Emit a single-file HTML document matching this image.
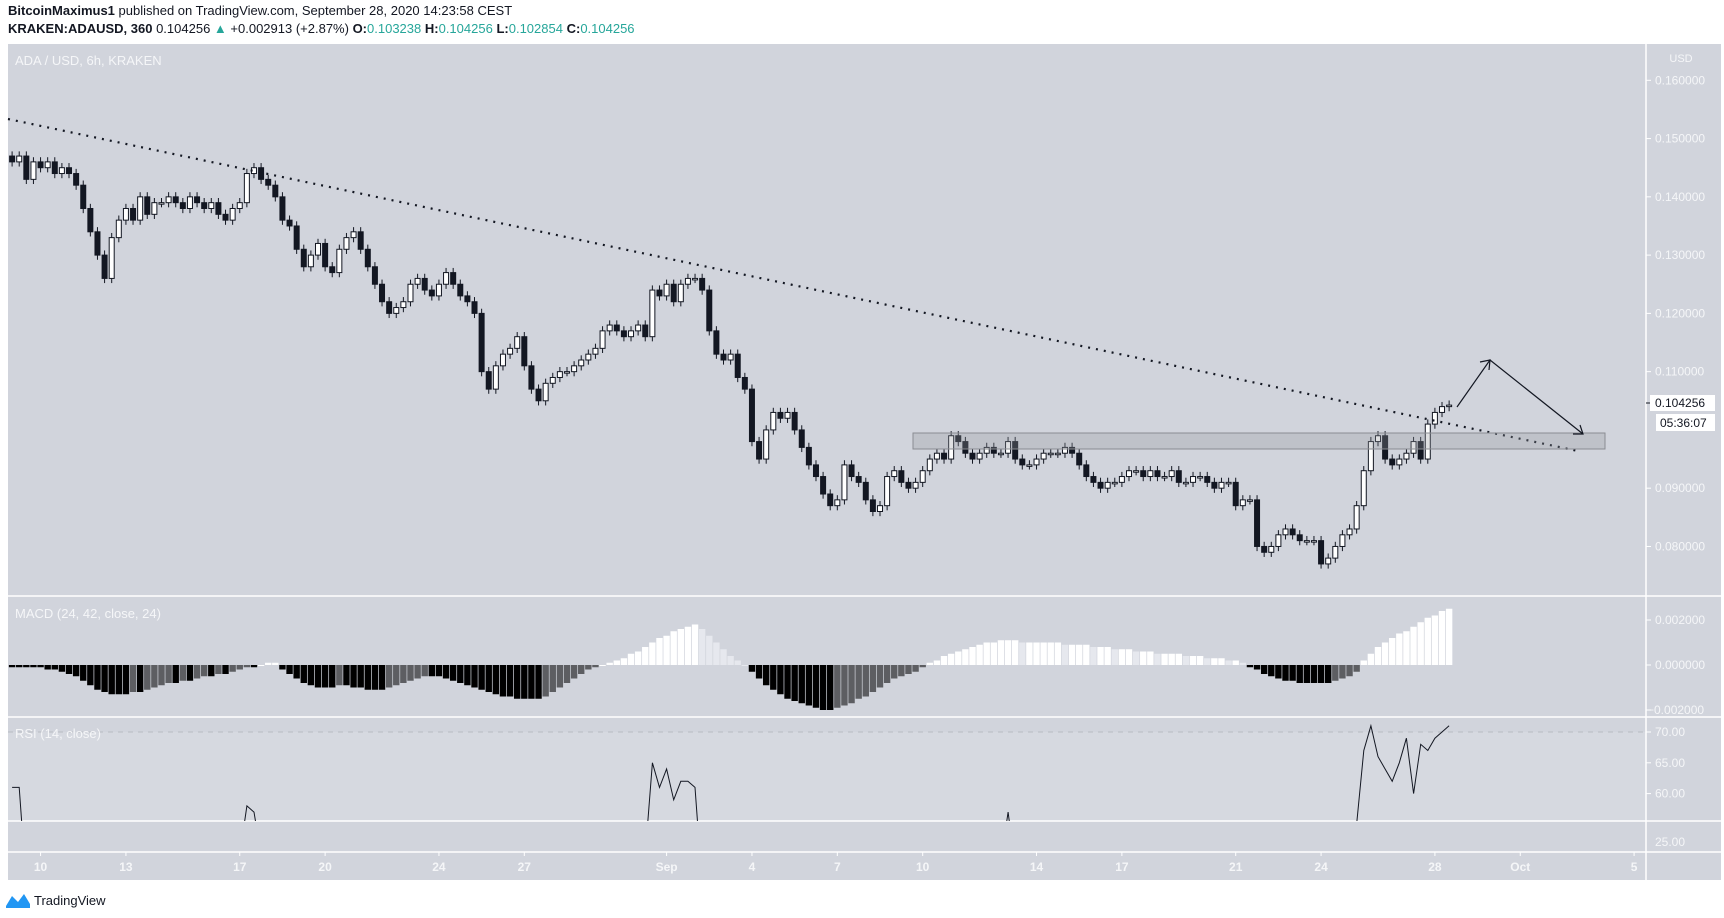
<!DOCTYPE html>
<html style="width:1724px;height:918px;overflow:hidden;margin:0"><head><meta charset="utf-8">
<style>
body{margin:0;width:1724px;height:918px;background:#fff;overflow:hidden;font-family:"Liberation Sans",sans-serif;position:relative;}
#hdr1{position:absolute;left:8px;top:3px;font-size:13px;color:#131722;white-space:nowrap;}
#hdr2{position:absolute;left:8px;top:21px;font-size:13px;color:#131722;white-space:nowrap;}
.g{color:#26a69a}
svg{position:absolute;left:0;top:0;display:block}
</style></head><body>
<div id="hdr1"><b>BitcoinMaximus1</b> published on TradingView.com, September 28, 2020 14:23:58 CEST</div>
<div id="hdr2"><b>KRAKEN:ADAUSD, 360</b> 0.104256 <span class="g">▲</span> +0.002913 (+2.87%) <b>O:</b><span class="g">0.103238</span> <b>H:</b><span class="g">0.104256</span> <b>L:</b><span class="g">0.102854</span> <b>C:</b><span class="g">0.104256</span></div>
<svg id="c" width="1724" height="918"></svg>
<script>
const closes=[.146,.147,.143,.146, .145,.146,.144,.145, .144,.142,.138,.134, .130,.126,.133,.136, .138,.136,.140,.137, .139,.139,.140,.139, .138,.140,.139,.138, .139,.137,.136,.138, .139,.144,.145,.143, .142,.140,.136,.135, .131,.128,.130,.132, .128,.127,.131,.133, .134,.131,.128,.125, .122,.120,.121,.122, .125,.126,.124,.123, .125,.127,.125,.123, .122,.120,.110,.107, .111,.113,.114,.116, .111,.107,.105,.108, .109,.110,.110,.111, .112,.113,.114,.117, .118,.117,.116,.117, .118,.116,.124,.123, .125,.122,.125,.126, .126,.124,.117,.113, .112,.113,.109,.107, .098,.095,.100,.103, .102,.103,.100,.097, .094,.092,.089,.087, .088,.094,.092,.091, .088,.086,.087,.092, .093,.091,.090,.091, .093,.095,.096,.095, .099,.098,.096,.095, .096,.097,.096,.096, .098,.095,.094,.094, .095,.096,.096,.096, .097,.096,.094,.092, .091,.090,.091,.091, .092,.093,.093,.092, .093,.092,.092,.093, .091,.091,.092,.092, .091,.090,.091,.091, .087,.088,.088,.080, .079,.080,.082,.083, .082,.081,.081,.081, .077,.078,.080,.082, .083,.087,.093,.098, .099,.095,.094,.095, .096,.098,.095,.101, .103,.104,.104256];
const macdHist=[-1,-1,-1,-1,-1,-2,-2,-3,-4,-5,-7,-9,-11,-12,-13,-13,-13,-12,-12,-11,-10,-9,-8,-8,-7,-7,-6,-5,-5,-4,-4,-3,-2,-1,-1,0,1,1,-2,-4,-6,-8,-9,-10,-10,-10,-9,-9,-10,-10,-11,-11,-11,-10,-9,-8,-7,-6,-5,-5,-5,-6,-7,-8,-9,-10,-11,-12,-13,-14,-14,-15,-15,-15,-15,-14,-12,-10,-8,-6,-4,-2,-1,0,1,2,3,5,6,8,10,12,13,15,16,17,18,16,13,10,7,4,2,0,-3,-6,-9,-11,-13,-15,-16,-17,-18,-19,-20,-20,-19,-18,-17,-15,-14,-12,-10,-8,-6,-5,-4,-3,-1,1,2,4,5,6,7,8,9,10,10,11,11,11,10,10,10,10,10,10,9,9,9,9,8,8,8,7,7,7,6,6,6,5,5,5,5,4,4,4,3,3,3,2,2,1,-1,-2,-4,-5,-6,-7,-7,-8,-8,-8,-8,-8,-7,-6,-5,-3,2,5,8,10,12,14,15,17,19,21,22,24,25];
const rsi=[61,61,45,48,47,46,44,43,40,38,35,33,30,32,40,44,47,45,49,46,48,48,50,48,47,50,48,47,48,45,44,48,50,58,57,50,47,44,40,38,35,33,38,41,36,35,42,45,46,41,37,34,31,30,32,34,40,42,39,38,42,45,42,39,37,35,28,26,33,37,39,42,36,31,30,35,37,39,39,41,43,45,47,51,52,50,48,50,52,50,65,61,64,59,62,62,61,45,35,32,30,25,26,22,20,24,30,34,33,35,32,28,26,25,22,21,24,33,31,30,26,25,28,38,40,38,37,39,43,46,48,46,52,51,48,47,49,50,49,49,57,48,46,45,47,49,49,49,50,48,45,42,41,40,42,42,44,46,46,44,46,47,46,46,47,42,42,43,43,42,42,41,40,42,41,40,31,30,31,35,37,36,35,35,27,29,34,38,46,55,67,71,66,64,62,65,69,60,68,67,69,70,71];
const priceTicks=[0.16,0.15,0.14,0.13,0.12,0.11,0.09,0.08];
const macdTicks=[0.002,0,-0.002];
const rsiTicks=[70,65,60];
const dateLabels=["10","13","17","20","24","27","Sep","4","7","10","14","17","21","24","28","Oct","5"];
const dateIdx=[4,16,32,44,60,72,92,104,116,128,144,156,172,184,200,212,228];

const NS="http://www.w3.org/2000/svg";
const svg=document.getElementById('c');
function mk(t,a,p){const e=document.createElementNS(NS,t);for(const k in a)e.setAttribute(k,a[k]);(p||svg).appendChild(e);return e;}
const X=i=>12.1+7.114*i;
const Y=p=>80.3+(0.16-p)*5827;
const MY=v=>665-v*22500;
const RY=v=>732-(v-70)*6.16;
const L=8,R=1646,AX=1721;
let e;
e=mk('rect',{x:L,y:44,width:AX-L,height:808,fill:'#d1d4dc'});

e=mk('rect',{x:L,y:732,width:R-L,height:89,fill:'#d6d9e0'});

e=mk('rect',{x:L,y:852,width:AX-L,height:28,fill:'#d1d4dc'});

[596,717,821,852].forEach(y=>{const s=mk('line',{x1:L,x2:AX,y1:y,y2:y,stroke:'#fff','stroke-width':1.5});

});
e=mk('line',{x1:R,x2:R,y1:44,y2:880,stroke:'#fff','stroke-width':1.5});

e=mk('line',{x1:L,x2:R,y1:732,y2:732,stroke:'#b8bbc2','stroke-dasharray':'5,5'});

function txt(x,y,s,o){const t=mk('text',Object.assign({x:x,y:y,fill:'#f5f6f8','font-size':12,'font-family':'Liberation Sans, sans-serif'},o||{}));t.textContent=s;return t;}
e=txt(15,65,'ADA / USD, 6h, KRAKEN',{'font-size':13});

e=txt(15,618,'MACD (24, 42, close, 24)',{'font-size':13});

e=txt(15,738,'RSI (14, close)',{'font-size':13});

e=txt(1681,62,'USD',{'text-anchor':'middle','font-size':11});

priceTicks.forEach(p=>{const t=txt(1655,Y(p)+4,p.toFixed(6),{'font-size':12});


mk('line',{x1:R,x2:R+5,y1:Y(p),y2:Y(p),stroke:'#fff'});});
macdTicks.forEach(v=>{const t=txt(v<0?1647:1655,MY(v)+4,v.toFixed(6).replace('-','−'),{'font-size':12});


mk('line',{x1:R,x2:R+5,y1:MY(v),y2:MY(v),stroke:'#fff'});});
rsiTicks.forEach(v=>{const t=txt(1655,RY(v)+4,v.toFixed(2),{'font-size':12});


mk('line',{x1:R,x2:R+5,y1:RY(v),y2:RY(v),stroke:'#fff'});});
e=txt(1655,846,'25.00',{'font-size':12});

dateLabels.forEach((s,k)=>{const x=X(dateIdx[k]);const t=txt(x,871,s,{'text-anchor':'middle','font-size':12,'font-weight':'bold'});


mk('line',{x1:x,x2:x,y1:852,y2:856,stroke:'#fff'});});
const cg=mk('g',{});

closes.forEach((c,i)=>{const o=i?closes[i-1]:0.147;const up=c>=o;const x=X(i);
const hi=Math.max(o,c)+0.0008,lo=Math.min(o,c)-0.0008;
const w=mk('line',{x1:x,x2:x,y1:Y(hi),y2:Y(lo),stroke:'#131722','stroke-width':1},cg);


const top=Y(Math.max(o,c)),h=Math.max(1.5,Math.abs(Y(o)-Y(c)));
const b=mk('rect',{x:x-2.5,y:top,width:5,height:h,fill:up?'#fff':'#131722',stroke:'#131722','stroke-width':1},cg);

});
e=mk('line',{x1:8,y1:119,x2:1578,y2:451,stroke:'#131722','stroke-width':2.2,'stroke-dasharray':'2,6'});

e=mk('rect',{x:913,y:433,width:692,height:16,fill:'rgba(150,152,158,0.3)',stroke:'#8a8c92','stroke-width':1});

e=mk('polyline',{points:'1457,407 1490,360 1583,434',fill:'none',stroke:'#131722','stroke-width':1.2});

mk('polyline',{points:'1480,362 1490,360 1489,370',fill:'none',stroke:'#131722','stroke-width':1.2});
mk('polyline',{points:'1573,434 1583,434 1580,425',fill:'none',stroke:'#131722','stroke-width':1.2});
e=mk('rect',{x:1650,y:395,width:65,height:16,fill:'#fff'});

txt(1655,407,'0.104256',{fill:'#131722'});
mk('line',{x1:R,x2:R+4,y1:403,y2:403,stroke:'#131722'});
e=mk('rect',{x:1656,y:414,width:59,height:17,fill:'#fff'});

txt(1660,427,'05:36:07',{fill:'#131722'});
const mg=mk('g',{});

macdHist.forEach((h,i)=>{const v=h*1e-4;const prev=i?macdHist[i-1]:h;
let col;if(h>=0)col=h>=prev?'#ffffff':'#e6e8ee';else col=h<=prev?'#000000':'#5d5e62';
const y0=MY(0),y1=MY(v);
const r=mk('rect',{x:X(i)-3.2,y:Math.min(y0,y1),width:6.4,height:Math.max(1,Math.abs(y1-y0)),fill:col},mg);

});
const cp=mk('clipPath',{id:'rc'});mk('rect',{x:L,y:717,width:R-L,height:104},cp);
const pts=rsi.map((v,i)=>X(i).toFixed(1)+','+RY(v).toFixed(1)).join(' ');
e=mk('polyline',{points:pts,fill:'none',stroke:'#131722','stroke-width':1,'clip-path':'url(#rc)'});

const lg=mk('g',{});

mk('path',{d:'M6,906 L12,896 L18,902 L24,894 L30,904 L30,908 L6,908 Z',fill:'#2196f3'},lg);
const lt=txt(34,905,'TradingView',{fill:'#131722','font-size':13});
lg.appendChild(lt);
</script>
</body></html>
